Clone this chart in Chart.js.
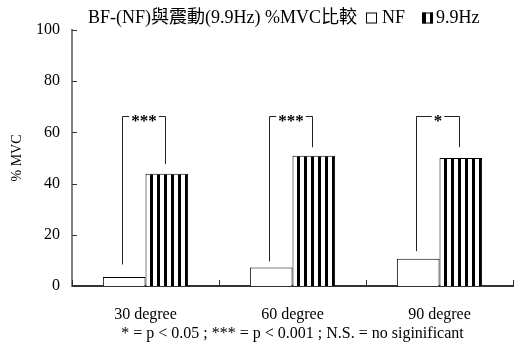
<!DOCTYPE html>
<html>
<head>
<meta charset="utf-8">
<script src="https://cdn.jsdelivr.net/npm/chart.js@4/dist/chart.umd.min.js"></script>
<style>
  html, body { margin: 0; padding: 0; background: #fff; }
  #wrap { width: 516px; height: 343px; }
</style>
</head>
<body>
<div id="wrap"><canvas id="c" width="516" height="343"></canvas></div>
<script>
// 圖表資料
const chartTitle = 'BF-(NF)與震動(9.9Hz) %MVC比較';
const categories = ['30 degree', '60 degree', '90 degree'];
const seriesLabels = ['NF', '9.9Hz'];
const nfValues = [3.5, 7.2, 10.6];
const hzValues = [43.8, 50.9, 50.0];
const yTickValues = [0, 20, 40, 60, 80, 100];
const yTitle = '% MVC';
const footnote = '* = p < 0.05 ; *** = p < 0.001 ; N.S. = no siginificant';

// 顯著性標記
const sigLabels = ['***', '***', '*'];
const bracketTop = [66.5, 66.5, 66.5];
const bracketLeftEnd = [8.4, 9.6, 13.6];
const bracketRightEnd = [47.6, 54.2, 54.2];

const SERIF = '"Liberation Serif", "Times New Roman", "Noto Sans CJK TC", serif';

// 直條紋圖樣
function makeStripePattern() {
  const pc = document.createElement('canvas');
  pc.width = 7;
  pc.height = 7;
  const p = pc.getContext('2d');
  p.fillStyle = '#fff';
  p.fillRect(0, 0, 7, 7);
  p.fillStyle = '#000';
  p.fillRect(3, 0, 3, 7);
  return p.createPattern(pc, 'repeat');
}
const stripes = makeStripePattern();

// 標題與圖例
const headerPlugin = {
  id: 'header',
  afterDraw(chart) {
    const ctx = chart.ctx;
    ctx.save();
    ctx.font = '18px ' + SERIF;
    ctx.fillStyle = '#000';
    ctx.textBaseline = 'middle';
    ctx.textAlign = 'left';
    const y = 18;
    let x = 88;
    ctx.fillText(chartTitle, x, y);
    x += ctx.measureText(chartTitle).width + 9;
    chart.data.datasets.forEach((ds, i) => {
      ctx.fillStyle = ds.backgroundColor;
      ctx.fillRect(x, y - 5.5, 11, 11);
      ctx.strokeStyle = '#000';
      ctx.lineWidth = 1;
      ctx.strokeRect(x + 0.5, y - 5, 10, 10);
      ctx.fillStyle = '#000';
      const tx = x + (i === 0 ? 16 : 14);
      ctx.fillText(ds.label, tx, y);
      x = tx + ctx.measureText(ds.label).width + 17;
    });
    ctx.restore();
  }
};

// 刻度線(向內)與顯著性括號
const marksPlugin = {
  id: 'marks',
  afterDatasetsDraw(chart) {
    const ctx = chart.ctx;
    const xs = chart.scales.x;
    const ys = chart.scales.y;
    const area = chart.chartArea;
    ctx.save();
    ctx.strokeStyle = '#333';
    ctx.lineWidth = 1;
    // y 軸刻度
    yTickValues.forEach(v => {
      const py = Math.round(ys.getPixelForValue(v)) + 0.5;
      ctx.beginPath();
      ctx.moveTo(area.left, py);
      ctx.lineTo(area.left + 5, py);
      ctx.stroke();
    });
    // x 軸分隔刻度
    const step = xs.getPixelForTick(1) - xs.getPixelForTick(0);
    for (let i = 0; i <= categories.length; i++) {
      const px = Math.round(xs.getPixelForTick(0) - step / 2 + i * step) + 0.5;
      ctx.beginPath();
      ctx.moveTo(px, area.bottom);
      ctx.lineTo(px, area.bottom - 6);
      ctx.stroke();
    }
    // 括號
    const m0 = chart.getDatasetMeta(0).data;
    const m1 = chart.getDatasetMeta(1).data;
    ctx.strokeStyle = '#222';
    ctx.font = 'bold 17px ' + SERIF;
    ctx.textAlign = 'center';
    ctx.textBaseline = 'alphabetic';
    sigLabels.forEach((label, i) => {
      const xl = Math.round(m0[i].x - 2) + 0.5;
      const xr = Math.round(m1[i].x - 2) + 0.5;
      const yt = Math.round(ys.getPixelForValue(bracketTop[i])) + 0.5;
      const yl = ys.getPixelForValue(bracketLeftEnd[i]);
      const yr = ys.getPixelForValue(bracketRightEnd[i]);
      const mid = (xl + xr) / 2;
      const half = ctx.measureText(label).width / 2 + 2;
      ctx.beginPath();
      ctx.moveTo(xl, yl);
      ctx.lineTo(xl, yt);
      ctx.lineTo(mid - half, yt);
      ctx.moveTo(mid + half, yt);
      ctx.lineTo(xr, yt);
      ctx.lineTo(xr, yr);
      ctx.stroke();
      ctx.fillStyle = '#000';
      ctx.fillText(label, mid, yt + 9);
    });
    ctx.restore();
  }
};

new Chart(document.getElementById('c'), {
  type: 'bar',
  data: {
    labels: categories,
    datasets: [
      {
        label: seriesLabels[0],
        data: nfValues,
        backgroundColor: '#ffffff',
        borderColor: '#000',
        borderWidth: 1
      },
      {
        label: seriesLabels[1],
        data: hzValues,
        backgroundColor: stripes,
        borderColor: '#000',
        borderWidth: 1
      }
    ]
  },
  options: {
    responsive: false,
    animation: false,
    events: [],
    layout: { padding: { top: 30, right: 3, left: 0, bottom: 0 } },
    datasets: {
      bar: { categoryPercentage: 0.58, barPercentage: 1.0 }
    },
    plugins: {
      legend: { display: false },
      title: { display: false },
      tooltip: { enabled: false }
    },
    scales: {
      x: {
        afterFit: s => { s.height = 57; },
        grid: { display: false, drawTicks: false },
        border: { display: true, color: '#333', width: 2 },
        ticks: { color: '#000', padding: 19, font: { family: SERIF, size: 16 } },
        title: {
          display: true,
          text: footnote,
          color: '#000',
          font: { family: SERIF, size: 16 },
          padding: { top: 0, bottom: 0 }
        }
      },
      y: {
        min: 0,
        max: 100,
        afterFit: s => { s.width = 72; },
        afterBuildTicks: s => { s.ticks = yTickValues.map(v => ({ value: v })); },
        grid: { display: false, drawTicks: false },
        border: { display: true, color: '#808080', width: 2 },
        ticks: { color: '#000', padding: 12, font: { family: SERIF, size: 16 } },
        title: {
          display: true,
          text: yTitle,
          color: '#000',
          font: { family: SERIF, size: 14 },
          padding: { top: 9, bottom: 0 }
        }
      }
    }
  },
  plugins: [headerPlugin, marksPlugin]
});
</script>
</body>
</html>
